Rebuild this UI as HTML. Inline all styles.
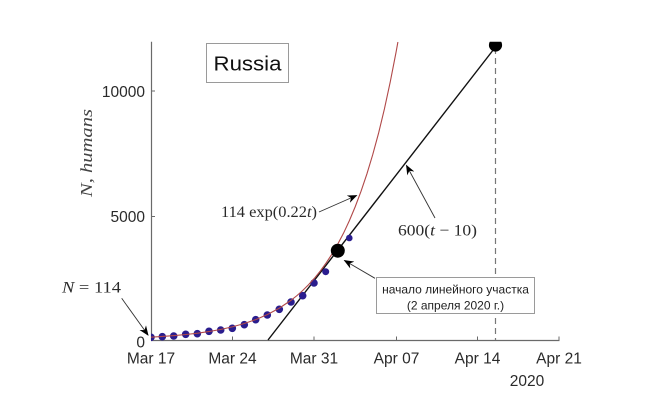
<!DOCTYPE html>
<html><head><meta charset="utf-8"><style>
html,body{margin:0;padding:0;background:#fff;}
svg{display:block;}
</style></head><body>
<svg width="660" height="405" viewBox="0 0 660 405" xmlns="http://www.w3.org/2000/svg">
<defs>
<clipPath id="ax"><rect x="151" y="41.7" width="420" height="310"/></clipPath>
<marker id="ah" markerWidth="10" markerHeight="8" refX="9" refY="4" orient="auto" markerUnits="userSpaceOnUse">
<path d="M0,0 L10,4 L0,8 L3,4 Z" fill="#000"/>
</marker>
</defs>
<rect width="660" height="405" fill="#fff"/>

<!-- axes -->
<line x1="151.5" y1="41.7" x2="151.5" y2="340.5" stroke="#6a6a6a" stroke-width="1.2"/>
<line x1="151" y1="340.5" x2="559.5" y2="340.5" stroke="#6a6a6a" stroke-width="1.2"/>
<!-- y ticks -->
<line x1="151.5" y1="91" x2="155" y2="91" stroke="#6a6a6a"/>
<line x1="151.5" y1="216.5" x2="155" y2="216.5" stroke="#6a6a6a"/>
<!-- x ticks -->
<g stroke="#6a6a6a" stroke-width="1">
<line x1="232.5" y1="340" x2="232.5" y2="336.5"/>
<line x1="314" y1="340" x2="314" y2="336.5"/>
<line x1="396.5" y1="340" x2="396.5" y2="336.5"/>
<line x1="477.5" y1="340" x2="477.5" y2="336.5"/>
<line x1="559" y1="340" x2="559" y2="336.5"/>
</g>

<!-- tick labels -->
<g font-family="Liberation Sans, sans-serif" font-size="15.5" fill="#2a2a2a">
<text x="145" y="97" text-anchor="end">10000</text>
<text x="145" y="222" text-anchor="end">5000</text>
<text x="145" y="347.5" text-anchor="end">0</text>
<text x="151" y="363.5" text-anchor="middle">Mar 17</text>
<text x="232.5" y="363.5" text-anchor="middle">Mar 24</text>
<text x="314" y="363.5" text-anchor="middle">Mar 31</text>
<text x="396.5" y="363.5" text-anchor="middle">Apr 07</text>
<text x="477.5" y="363.5" text-anchor="middle">Apr 14</text>
<text x="559" y="363.5" text-anchor="middle">Apr 21</text>
<text x="527" y="386" text-anchor="middle">2020</text>
</g>

<!-- y label -->
<text transform="translate(92,153) rotate(-90)" font-family="Liberation Serif, serif" font-style="italic" font-size="17" fill="#444" text-anchor="middle" textLength="88" lengthAdjust="spacingAndGlyphs">N, humans</text>

<!-- Russia box -->
<rect x="206.5" y="43.5" width="82" height="39" fill="#fff" stroke="#9a9a9a" stroke-width="1"/>
<text x="247.5" y="70.5" font-family="Liberation Sans, sans-serif" font-size="20" fill="#111" text-anchor="middle" textLength="68" lengthAdjust="spacingAndGlyphs">Russia</text>

<!-- dashed vertical -->
<line x1="495.5" y1="48" x2="495.5" y2="340" stroke="#777" stroke-width="1.2" stroke-dasharray="6,4"/>

<g clip-path="url(#ax)">
<!-- linear line -->
<line x1="268" y1="340" x2="495.5" y2="47" stroke="#111" stroke-width="1.4"/>
<!-- blue dots -->
<g fill="#2a1d8e">
<circle cx="151" cy="337.3" r="3.8"/>
<circle cx="162.3" cy="336.7" r="3.8"/>
<circle cx="173.7" cy="336" r="3.8"/>
<circle cx="185.7" cy="334.3" r="3.8"/>
<circle cx="197.3" cy="333.7" r="3.8"/>
<circle cx="209" cy="331.3" r="3.8"/>
<circle cx="220.7" cy="330" r="3.8"/>
<circle cx="232.3" cy="328.3" r="3.8"/>
<circle cx="244.3" cy="324.7" r="3.8"/>
<circle cx="255.7" cy="319.7" r="3.8"/>
<circle cx="267.3" cy="315" r="3.8"/>
<circle cx="279.3" cy="309.3" r="3.8"/>
<circle cx="291" cy="302" r="3.8"/>
<circle cx="302.7" cy="295.7" r="3.8"/>
<circle cx="314" cy="283" r="3.8"/>
<circle cx="325.7" cy="271.7" r="3.5"/>
<circle cx="349.3" cy="238" r="3.3"/>
</g>
<!-- exponential curve -->
<polyline fill="none" stroke="#b04848" stroke-width="1.1" points="151,337.16 162.67,336.47 174.34,335.6 186.01,334.51 197.68,333.16 209.35,331.48 221.02,329.38 232.69,326.77 244.36,323.52 256.03,319.46 267.7,314.4 279.37,308.11 291.04,300.26 296.9,295.64 302.71,290.48 308.5,284.72 314.38,278.29 320.2,271.12 326.05,263.11 331.9,254.17 337.72,244.19 343.6,233.05 349.39,220.61 355.2,206.74 361.06,191.23 366.9,173.93 372.73,154.62 378.6,133.06 384.4,109.01 390.2,82.15 396.07,52.16 397.9,42"/>
<!-- big black dots -->
<circle cx="337.8" cy="250.7" r="7" fill="#000"/>
<circle cx="495.5" cy="45" r="6.6" fill="#000"/>
</g>

<!-- annotations -->
<g stroke="#333" stroke-width="0.9" fill="none">
<line x1="319" y1="212" x2="356.5" y2="195.5" marker-end="url(#ah)"/>
<line x1="435" y1="218" x2="406.5" y2="165.5" marker-end="url(#ah)"/>
<line x1="375" y1="278.3" x2="344.5" y2="260.5" marker-end="url(#ah)"/>
<line x1="121.7" y1="298.3" x2="148" y2="335" marker-end="url(#ah)"/>
</g>

<g font-family="Liberation Serif, serif" font-size="16" fill="#2a2a2a">
<text x="221" y="217" textLength="96" lengthAdjust="spacingAndGlyphs">114 exp(0.22<tspan font-style="italic">t</tspan>)</text>
<text x="398" y="235.5" textLength="79" lengthAdjust="spacingAndGlyphs">600(<tspan font-style="italic">t</tspan> − 10)</text>
<text x="62" y="292.5" textLength="59" lengthAdjust="spacingAndGlyphs"><tspan font-style="italic">N</tspan> = 114</text>
</g>

<!-- annotation box -->
<rect x="376.5" y="277.5" width="158" height="36" fill="#fff" stroke="#9a9a9a" stroke-width="1"/>
<g font-family="Liberation Sans, sans-serif" font-size="12" fill="#222" text-anchor="middle">
<text x="455.5" y="293.5">начало линейного участка</text>
<text x="455.5" y="309.5">(2 апреля 2020 г.)</text>
</g>
</svg>
</body></html>
